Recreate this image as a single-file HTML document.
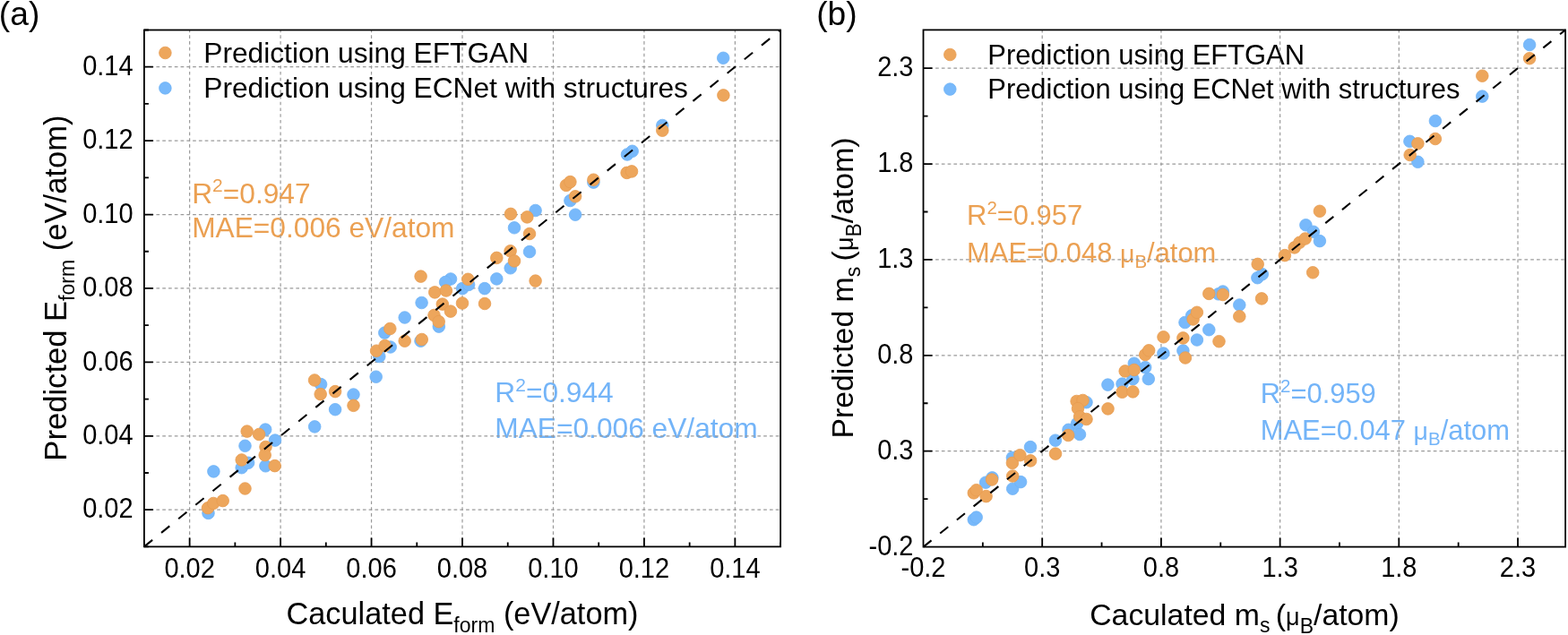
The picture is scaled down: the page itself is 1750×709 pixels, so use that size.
<!DOCTYPE html>
<html><head><meta charset="utf-8"><title>Figure</title>
<style>html,body{margin:0;padding:0;background:#fff;}svg{display:block;}</style></head>
<body><svg width="1750" height="709" viewBox="0 0 1750 709">
<rect width="1750" height="709" fill="#fff"/>
<g font-family="'Liberation Sans', sans-serif" font-size="31.7">
<text x="214.2" y="226.6" fill="#EBA052" font-size="31.7">R<tspan font-size="21.0" dy="-12.50">2</tspan><tspan dy="12.50">=</tspan>0.947</text>
<text x="214.2" y="265.3" fill="#EBA052" font-size="31.7">MAE=0.006 eV/atom</text>
<text x="552.3" y="449.4" fill="#73B4F8" font-size="31.7">R<tspan font-size="21.0" dy="-12.50">2</tspan><tspan dy="12.50">=</tspan>0.944</text>
<text x="552.3" y="489.1" fill="#73B4F8" font-size="31.7">MAE=0.006 eV/atom</text>
<text x="1079.1" y="251.0" fill="#EBA052" font-size="30.9">R<tspan font-size="20.5" dy="-12.18">2</tspan><tspan dy="12.18">=</tspan>0.957</text>
<text x="1079.1" y="292.7" fill="#EBA052" font-size="30.9">MAE=0.048 <tspan font-size="28.5">μ</tspan><tspan font-size="20.5" dy="6">B</tspan><tspan dy="-6">/atom</tspan></text>
<text x="1406.7" y="449.7" fill="#73B4F8" font-size="30.9">R<tspan font-size="20.5" dy="-12.18">2</tspan><tspan dy="12.18">=</tspan>0.959</text>
<text x="1406.7" y="491.4" fill="#73B4F8" font-size="30.9">MAE=0.047 <tspan font-size="28.5">μ</tspan><tspan font-size="20.5" dy="6">B</tspan><tspan dy="-6">/atom</tspan></text>
</g>
<path class="nt" d="M211.63 610.40V33.50M313.09 610.40V33.50M414.54 610.40V33.50M516.00 610.40V33.50M617.46 610.40V33.50M718.91 610.40V33.50M820.37 610.40V33.50" stroke="#9a9a9a" stroke-width="1.2" stroke-dasharray="3.7 3.054" fill="none"/>
<path class="nt" d="M160.90 569.19H871.10M160.90 486.78H871.10M160.90 404.36H871.10M160.90 321.95H871.10M160.90 239.54H871.10M160.90 157.12H871.10M160.90 74.71H871.10" stroke="#9a9a9a" stroke-width="1.2" stroke-dasharray="3.7 3.077" fill="none"/>
<path class="nt" d="M1163.20 610.60V33.40M1295.91 610.60V33.40M1428.61 610.60V33.40M1561.31 610.60V33.40M1694.02 610.60V33.40" stroke="#9a9a9a" stroke-width="1.2" stroke-dasharray="3.7 3.054" fill="none"/>
<path class="nt" d="M1030.50 503.71H1747.10M1030.50 396.82H1747.10M1030.50 289.93H1747.10M1030.50 183.04H1747.10M1030.50 76.16H1747.10" stroke="#9a9a9a" stroke-width="1.2" stroke-dasharray="3.7 3.077" fill="none"/>
<g font-family="'Liberation Sans', sans-serif" font-size="31.7" fill="#000">
<text x="227.3" y="70">Prediction using EFTGAN</text>
<text x="227.3" y="109.2">Prediction using ECNet with structures</text>
<text x="1102.3" y="71.8" font-size="30.9">Prediction using EFTGAN</text>
<text x="1102.3" y="109.7" font-size="30.9">Prediction using ECNet with structures</text>
</g>
<g class="nt" fill="#78B9FB" stroke="#6EB2F5" stroke-width="0.8"><circle cx="232.5" cy="572.9" r="6.8"/><circle cx="238.4" cy="526.4" r="6.8"/><circle cx="273.5" cy="497.8" r="6.8"/><circle cx="269.7" cy="522.2" r="6.8"/><circle cx="277.1" cy="516.8" r="6.8"/><circle cx="296.2" cy="479.6" r="6.8"/><circle cx="307.0" cy="491.6" r="6.8"/><circle cx="296.4" cy="520.3" r="6.8"/><circle cx="351.2" cy="476.4" r="6.8"/><circle cx="358.1" cy="429.1" r="6.8"/><circle cx="374.1" cy="457.2" r="6.8"/><circle cx="394.5" cy="440.5" r="6.8"/><circle cx="419.7" cy="420.7" r="6.8"/><circle cx="423.3" cy="398.0" r="6.8"/><circle cx="435.7" cy="387.5" r="6.8"/><circle cx="429.3" cy="371.6" r="6.8"/><circle cx="451.7" cy="354.5" r="6.8"/><circle cx="470.6" cy="338.0" r="6.8"/><circle cx="469.5" cy="380.7" r="6.8"/><circle cx="489.8" cy="364.6" r="6.8"/><circle cx="503.0" cy="311.5" r="6.8"/><circle cx="497.1" cy="315.0" r="6.8"/><circle cx="516.1" cy="322.1" r="6.8"/><circle cx="523.1" cy="317.9" r="6.8"/><circle cx="540.9" cy="322.1" r="6.8"/><circle cx="554.3" cy="311.4" r="6.8"/><circle cx="569.7" cy="299.3" r="6.8"/><circle cx="591.0" cy="281.1" r="6.8"/><circle cx="574.0" cy="254.3" r="6.8"/><circle cx="597.6" cy="235.0" r="6.8"/><circle cx="636.4" cy="224.0" r="6.8"/><circle cx="642.1" cy="239.7" r="6.8"/><circle cx="662.4" cy="203.6" r="6.8"/><circle cx="700.0" cy="172.5" r="6.8"/><circle cx="705.7" cy="168.8" r="6.8"/><circle cx="739.3" cy="140.0" r="6.8"/><circle cx="807.2" cy="64.8" r="6.8"/></g>
<g class="nt" fill="#EDA65C" stroke="#E79C50" stroke-width="0.8"><circle cx="232.0" cy="567.2" r="6.8"/><circle cx="238.2" cy="562.0" r="6.8"/><circle cx="248.7" cy="559.1" r="6.8"/><circle cx="273.5" cy="545.5" r="6.8"/><circle cx="269.7" cy="513.5" r="6.8"/><circle cx="275.7" cy="481.6" r="6.8"/><circle cx="289.1" cy="485.0" r="6.8"/><circle cx="296.5" cy="499.0" r="6.8"/><circle cx="295.7" cy="508.1" r="6.8"/><circle cx="306.7" cy="520.1" r="6.8"/><circle cx="351.1" cy="424.5" r="6.8"/><circle cx="357.7" cy="440.1" r="6.8"/><circle cx="374.1" cy="437.1" r="6.8"/><circle cx="394.5" cy="452.8" r="6.8"/><circle cx="420.1" cy="391.7" r="6.8"/><circle cx="429.6" cy="386.0" r="6.8"/><circle cx="435.3" cy="367.0" r="6.8"/><circle cx="451.7" cy="380.7" r="6.8"/><circle cx="470.8" cy="379.0" r="6.8"/><circle cx="484.5" cy="352.0" r="6.8"/><circle cx="489.7" cy="359.1" r="6.8"/><circle cx="493.8" cy="339.6" r="6.8"/><circle cx="502.9" cy="347.6" r="6.8"/><circle cx="516.0" cy="338.5" r="6.8"/><circle cx="541.0" cy="339.0" r="6.8"/><circle cx="469.6" cy="308.6" r="6.8"/><circle cx="485.3" cy="326.4" r="6.8"/><circle cx="497.9" cy="324.5" r="6.8"/><circle cx="522.3" cy="311.8" r="6.8"/><circle cx="554.3" cy="287.9" r="6.8"/><circle cx="569.6" cy="280.3" r="6.8"/><circle cx="574.0" cy="291.4" r="6.8"/><circle cx="591.0" cy="261.0" r="6.8"/><circle cx="597.6" cy="313.6" r="6.8"/><circle cx="570.0" cy="238.9" r="6.8"/><circle cx="588.3" cy="242.4" r="6.8"/><circle cx="631.9" cy="206.9" r="6.8"/><circle cx="636.4" cy="203.1" r="6.8"/><circle cx="642.1" cy="219.3" r="6.8"/><circle cx="662.4" cy="200.7" r="6.8"/><circle cx="699.6" cy="192.9" r="6.8"/><circle cx="705.0" cy="191.4" r="6.8"/><circle cx="739.3" cy="145.7" r="6.8"/><circle cx="807.4" cy="106.4" r="6.8"/></g>
<g class="nt" fill="#78B9FB" stroke="#6EB2F5" stroke-width="0.8"><circle cx="1086.8" cy="580.2" r="6.8"/><circle cx="1089.7" cy="577.6" r="6.8"/><circle cx="1100.1" cy="538.7" r="6.8"/><circle cx="1107.4" cy="533.4" r="6.8"/><circle cx="1130.2" cy="545.7" r="6.8"/><circle cx="1139.1" cy="538.1" r="6.8"/><circle cx="1129.9" cy="511.0" r="6.8"/><circle cx="1150.0" cy="499.1" r="6.8"/><circle cx="1177.9" cy="491.7" r="6.8"/><circle cx="1192.5" cy="479.8" r="6.8"/><circle cx="1202.0" cy="473.0" r="6.8"/><circle cx="1205.0" cy="485.0" r="6.8"/><circle cx="1212.5" cy="449.2" r="6.8"/><circle cx="1236.4" cy="429.6" r="6.8"/><circle cx="1252.5" cy="428.6" r="6.8"/><circle cx="1264.4" cy="423.1" r="6.8"/><circle cx="1265.8" cy="405.7" r="6.8"/><circle cx="1278.2" cy="410.2" r="6.8"/><circle cx="1281.8" cy="423.1" r="6.8"/><circle cx="1298.4" cy="394.5" r="6.8"/><circle cx="1320.4" cy="391.5" r="6.8"/><circle cx="1322.5" cy="360.0" r="6.8"/><circle cx="1330.2" cy="352.3" r="6.8"/><circle cx="1335.9" cy="379.5" r="6.8"/><circle cx="1349.3" cy="368.2" r="6.8"/><circle cx="1359.8" cy="328.3" r="6.8"/><circle cx="1364.8" cy="325.5" r="6.8"/><circle cx="1383.3" cy="340.5" r="6.8"/><circle cx="1403.4" cy="310.2" r="6.8"/><circle cx="1408.8" cy="306.2" r="6.8"/><circle cx="1457.4" cy="251.3" r="6.8"/><circle cx="1465.9" cy="258.8" r="6.8"/><circle cx="1472.9" cy="269.1" r="6.8"/><circle cx="1573.4" cy="157.8" r="6.8"/><circle cx="1582.4" cy="180.8" r="6.8"/><circle cx="1601.9" cy="135.0" r="6.8"/><circle cx="1654.3" cy="107.6" r="6.8"/><circle cx="1707.1" cy="50.0" r="6.8"/></g>
<g class="nt" fill="#EDA65C" stroke="#E79C50" stroke-width="0.8"><circle cx="1086.8" cy="550.4" r="6.8"/><circle cx="1089.7" cy="547.2" r="6.8"/><circle cx="1100.6" cy="554.1" r="6.8"/><circle cx="1107.0" cy="535.5" r="6.8"/><circle cx="1130.2" cy="531.5" r="6.8"/><circle cx="1129.9" cy="516.9" r="6.8"/><circle cx="1138.4" cy="508.2" r="6.8"/><circle cx="1150.1" cy="514.4" r="6.8"/><circle cx="1178.0" cy="506.6" r="6.8"/><circle cx="1192.2" cy="486.0" r="6.8"/><circle cx="1201.6" cy="448.0" r="6.8"/><circle cx="1208.5" cy="447.0" r="6.8"/><circle cx="1203.0" cy="456.1" r="6.8"/><circle cx="1205.1" cy="465.3" r="6.8"/><circle cx="1212.5" cy="468.0" r="6.8"/><circle cx="1236.5" cy="456.4" r="6.8"/><circle cx="1252.5" cy="437.8" r="6.8"/><circle cx="1264.4" cy="437.4" r="6.8"/><circle cx="1255.7" cy="414.4" r="6.8"/><circle cx="1265.8" cy="413.0" r="6.8"/><circle cx="1278.2" cy="396.0" r="6.8"/><circle cx="1282.2" cy="391.3" r="6.8"/><circle cx="1298.5" cy="376.3" r="6.8"/><circle cx="1320.4" cy="377.4" r="6.8"/><circle cx="1322.9" cy="399.5" r="6.8"/><circle cx="1331.6" cy="356.5" r="6.8"/><circle cx="1335.9" cy="348.8" r="6.8"/><circle cx="1349.3" cy="327.9" r="6.8"/><circle cx="1364.8" cy="329.0" r="6.8"/><circle cx="1360.5" cy="381.2" r="6.8"/><circle cx="1383.3" cy="353.3" r="6.8"/><circle cx="1408.1" cy="333.4" r="6.8"/><circle cx="1403.7" cy="294.9" r="6.8"/><circle cx="1433.9" cy="285.1" r="6.8"/><circle cx="1444.7" cy="276.4" r="6.8"/><circle cx="1450.4" cy="270.8" r="6.8"/><circle cx="1456.7" cy="266.5" r="6.8"/><circle cx="1472.9" cy="235.8" r="6.8"/><circle cx="1465.2" cy="304.3" r="6.8"/><circle cx="1573.7" cy="173.0" r="6.8"/><circle cx="1582.4" cy="160.3" r="6.8"/><circle cx="1601.9" cy="155.0" r="6.8"/><circle cx="1654.3" cy="84.7" r="6.8"/><circle cx="1707.1" cy="65.2" r="6.8"/></g>
<g class="nt" fill="#EDA65C" stroke="#E79C50" stroke-width="0.8"><circle cx="184.4" cy="59.0" r="6.8"/></g>
<g class="nt" fill="#78B9FB" stroke="#6EB2F5" stroke-width="0.8"><circle cx="184.4" cy="98.4" r="6.8"/></g>
<g class="nt" fill="#EDA65C" stroke="#E79C50" stroke-width="0.8"><circle cx="1060.3" cy="61.0" r="6.8"/></g>
<g class="nt" fill="#78B9FB" stroke="#6EB2F5" stroke-width="0.8"><circle cx="1060.3" cy="99.6" r="6.8"/></g>
<line class="nt" x1="160.90" y1="610.40" x2="871.10" y2="33.50" stroke="#000" stroke-width="2.1" stroke-dasharray="11.9 12.76" stroke-dashoffset="0"/>
<line class="nt" x1="1030.50" y1="610.60" x2="1747.10" y2="33.40" stroke="#000" stroke-width="2.1" stroke-dasharray="11.6 12.41" stroke-dashoffset="0"/>
<path class="nt" d="M211.63 610.40v-10M160.90 569.19h10M313.09 610.40v-10M160.90 486.78h10M414.54 610.40v-10M160.90 404.36h10M516.00 610.40v-10M160.90 321.95h10M617.46 610.40v-10M160.90 239.54h10M718.91 610.40v-10M160.90 157.12h10M820.37 610.40v-10M160.90 74.71h10M160.90 610.40v-5M160.90 610.40h5M262.36 610.40v-5M160.90 527.99h5M363.81 610.40v-5M160.90 445.57h5M465.27 610.40v-5M160.90 363.16h5M566.73 610.40v-5M160.90 280.74h5M668.19 610.40v-5M160.90 198.33h5M769.64 610.40v-5M160.90 115.91h5M871.10 610.40v-5M160.90 33.50h5" stroke="#000" stroke-width="1.8" fill="none"/>
<rect class="nt" x="160.90" y="33.50" width="710.20" height="576.90" stroke="#000" stroke-width="1.8" fill="none"/>
<path class="nt" d="M1163.20 610.60v-10M1030.50 503.71h10M1295.91 610.60v-10M1030.50 396.82h10M1428.61 610.60v-10M1030.50 289.93h10M1561.31 610.60v-10M1030.50 183.04h10M1694.02 610.60v-10M1030.50 76.16h10M1096.85 610.60v-5M1030.50 557.16h5M1229.56 610.60v-5M1030.50 450.27h5M1362.26 610.60v-5M1030.50 343.38h5M1494.96 610.60v-5M1030.50 236.49h5M1627.67 610.60v-5M1030.50 129.60h5" stroke="#000" stroke-width="1.8" fill="none"/>
<rect class="nt" x="1030.50" y="33.40" width="716.60" height="577.20" stroke="#000" stroke-width="1.8" fill="none"/>
<g font-family="'Liberation Sans', sans-serif" font-size="29" fill="#000">
<text transform="translate(211.63 644.80) scale(1 1.09)" text-anchor="middle">0.02</text>
<text transform="translate(148.60 578.39) scale(1 1.09)" text-anchor="end">0.02</text>
<text transform="translate(313.09 644.80) scale(1 1.09)" text-anchor="middle">0.04</text>
<text transform="translate(148.60 495.98) scale(1 1.09)" text-anchor="end">0.04</text>
<text transform="translate(414.54 644.80) scale(1 1.09)" text-anchor="middle">0.06</text>
<text transform="translate(148.60 413.56) scale(1 1.09)" text-anchor="end">0.06</text>
<text transform="translate(516.00 644.80) scale(1 1.09)" text-anchor="middle">0.08</text>
<text transform="translate(148.60 331.15) scale(1 1.09)" text-anchor="end">0.08</text>
<text transform="translate(617.46 644.80) scale(1 1.09)" text-anchor="middle">0.10</text>
<text transform="translate(148.60 248.74) scale(1 1.09)" text-anchor="end">0.10</text>
<text transform="translate(718.91 644.80) scale(1 1.09)" text-anchor="middle">0.12</text>
<text transform="translate(148.60 166.32) scale(1 1.09)" text-anchor="end">0.12</text>
<text transform="translate(820.37 644.80) scale(1 1.09)" text-anchor="middle">0.14</text>
<text transform="translate(148.60 83.91) scale(1 1.09)" text-anchor="end">0.14</text>
<text transform="translate(1163.20 644.40) scale(1 1.06)" text-anchor="middle">0.3</text>
<text transform="translate(1019.50 512.91) scale(1 1.06)" text-anchor="end">0.3</text>
<text transform="translate(1295.91 644.40) scale(1 1.06)" text-anchor="middle">0.8</text>
<text transform="translate(1019.50 406.02) scale(1 1.06)" text-anchor="end">0.8</text>
<text transform="translate(1428.61 644.40) scale(1 1.06)" text-anchor="middle">1.3</text>
<text transform="translate(1019.50 299.13) scale(1 1.06)" text-anchor="end">1.3</text>
<text transform="translate(1561.31 644.40) scale(1 1.06)" text-anchor="middle">1.8</text>
<text transform="translate(1019.50 192.24) scale(1 1.06)" text-anchor="end">1.8</text>
<text transform="translate(1694.02 644.40) scale(1 1.06)" text-anchor="middle">2.3</text>
<text transform="translate(1019.50 85.36) scale(1 1.06)" text-anchor="end">2.3</text>
<text transform="translate(1030.50 644.40) scale(1 1.06)" text-anchor="middle">-0.2</text>
<text transform="translate(1019.50 619.80) scale(1 1.06)" text-anchor="end">-0.2</text>
</g>
<g font-family="'Liberation Sans', sans-serif" font-size="34.3" fill="#000">
<text x="516" y="697.1" text-anchor="middle">Caculated E<tspan font-size="23" dy="8.6">form</tspan><tspan dy="-8.6"> (eV/atom)</tspan></text>
<text x="1389" y="697.8" text-anchor="middle" font-size="33.8">Caculated m<tspan font-size="23" dy="8.6">s </tspan><tspan dy="-8.6">(</tspan><tspan font-size="27">μ</tspan><tspan font-size="23" dy="9.6">B</tspan><tspan dy="-9.6">/atom)</tspan></text>
<text transform="translate(74.1 321.55) rotate(-90)" text-anchor="middle" font-size="34.6">Predicted E<tspan font-size="23" dy="8.6">form</tspan><tspan dy="-8.6"> (eV/atom)</tspan></text>
<text transform="translate(951.6 321.5) rotate(-90)" text-anchor="middle" font-size="33.8">Predicted m<tspan font-size="23" dy="8.6">s </tspan><tspan dy="-8.6">(</tspan><tspan font-size="27">μ</tspan><tspan font-size="23" dy="9.6">B</tspan><tspan dy="-9.6">/atom)</tspan></text>
</g>
<g font-family="'Liberation Sans', sans-serif" font-size="37.2" fill="#000">
<text x="-1.2" y="28.0">(a)</text>
<text x="911.2" y="27.8">(b)</text>
</g>
</svg></body></html>
